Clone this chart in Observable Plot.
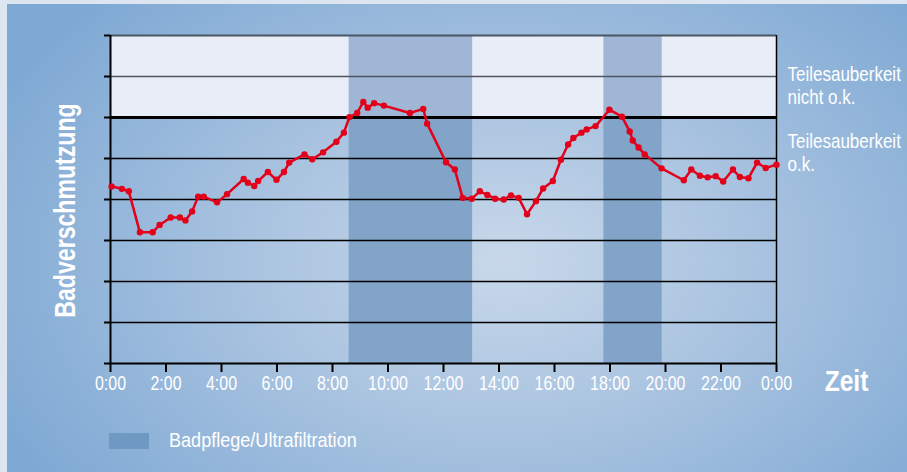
<!DOCTYPE html>
<html>
<head>
<meta charset="utf-8">
<script src="https://cdn.jsdelivr.net/npm/d3@7"></script>
<script src="https://cdn.jsdelivr.net/npm/@observablehq/plot@0.6"></script>
<style>
  html, body { margin: 0; padding: 0; }
  body { width: 907px; height: 472px; background: #dde6f0; position: relative; overflow: hidden;
         font-family: "Liberation Sans", Arial, sans-serif; }
  #bg { position: absolute; left: 7px; top: 4px; width: 900px; height: 468px;
        background: radial-gradient(ellipse 62% 80% at 55% 55%, #c8d8ea 0%, #a9c3e0 45%, #7fa9d4 100%); }
  #chart { position: absolute; left: 0; top: 0; }
  #legend { position: absolute; left: 0; top: 420px; width: 907px; height: 52px; }
  #legend .sw { position: absolute; left: 109px; top: 13px; width: 40px; height: 16px; background: #6f98c2; }
  #legend .lab { position: absolute; left: 169px; top: 8px; font-size: 21px; line-height: 24px; color: #fff; white-space: nowrap;
                 transform: scaleX(0.86); transform-origin: 0 0; }
</style>
</head>
<body>
<div id="bg"></div>
<div id="chart"></div>
<div id="legend"><div class="sw"></div><div class="lab">Badpflege/Ultrafiltration</div></div>
<script>
// time of day in hours
const hours = [0.04,0.41,0.66,1.06,1.52,1.77,2.17,2.50,2.70,2.94,3.16,3.36,3.84,4.20,4.80,4.95,5.18,5.32,5.67,5.98,
  6.25,6.44,6.99,7.27,7.66,8.14,8.41,8.61,8.89,9.11,9.27,9.50,9.85,10.79,11.27,11.41,12.09,12.41,12.69,13.02,
  13.31,13.58,13.86,14.17,14.43,14.71,15.01,15.33,15.59,15.94,16.23,16.49,16.68,16.97,17.16,17.48,17.98,18.43,18.71,18.82,
  19.03,19.25,19.86,20.66,20.93,21.24,21.52,21.81,22.08,22.43,22.68,22.99,23.30,23.61,24.00];
// bath contamination (arbitrary units, threshold at 6)
const values = [4.32,4.26,4.20,3.20,3.20,3.38,3.56,3.56,3.49,3.71,4.07,4.07,3.93,4.13,4.50,4.41,4.33,4.45,4.67,4.48,
  4.67,4.90,5.10,4.98,5.15,5.41,5.63,6.01,6.11,6.38,6.24,6.35,6.29,6.11,6.21,5.85,4.91,4.73,4.04,4.02,
  4.20,4.11,4.02,4.00,4.10,4.04,3.64,3.96,4.27,4.45,4.97,5.34,5.50,5.63,5.71,5.79,6.19,6.02,5.66,5.44,
  5.27,5.10,4.76,4.47,4.73,4.58,4.54,4.57,4.44,4.73,4.55,4.52,4.90,4.77,4.85];
// bath care / ultrafiltration periods
const bandStart = [8.6, 17.78];
const bandEnd = [13.05, 19.88];
const threshold = 6;
const yMax = 8;
const xTicks = [0,2,4,6,8,10,12,14,16,18,20,22,24];
const yTicks = [0,1,2,3,4,5,6,7,8];
const labelAbove = "Teilesauberkeit\nnicht o.k.";
const labelBelow = "Teilesauberkeit\no.k.";

const data = hours.map((h, i) => ({h, v: values[i]}));
const bands = bandStart.map((s, i) => ({s, e: bandEnd[i]}));
const font = "'Liberation Sans', Arial, sans-serif";

const chart = Plot.plot({
  width: 907, height: 420,
  marginLeft: 110, marginRight: 131, marginTop: 35, marginBottom: 57,
  style: {background: "transparent", fontFamily: font, overflow: "visible"},
  x: {domain: [0, 24]},
  y: {domain: [0, yMax]},
  marks: [
    Plot.rect([{}], {x1: 0, x2: 24, y1: threshold, y2: yMax, fill: "#e8edf7"}),
    Plot.rect(bands, {x1: "s", x2: "e", y1: threshold, y2: yMax, fill: "#9fb6d4"}),
    Plot.rect(bands, {x1: "s", x2: "e", y1: 0, y2: threshold, fill: "#81a4c8"}),
    Plot.ruleY(yTicks.filter(d => d > 0 && d < threshold), {stroke: "#000", strokeWidth: 1.5}),
    Plot.ruleY(yTicks.filter(d => d > threshold && d < yMax), {stroke: "#4f5660", strokeWidth: 1.5}),
    Plot.ruleY([yMax], {stroke: "#4a5663", strokeWidth: 2}),
    Plot.ruleY([threshold], {stroke: "#000", strokeWidth: 3}),
    Plot.ruleX([24], {stroke: "#000", strokeWidth: 1.5}),
    Plot.ruleX([0], {stroke: "#000", strokeWidth: 2}),
    Plot.ruleY([0], {stroke: "#000", strokeWidth: 2}),
    Plot.axisX({ticks: xTicks, tickSize: 9, tickPadding: 3, tickFormat: d => `${d % 24}:00`,
      fontSize: 21, fill: "#fff", stroke: "#000", strokeWidth: 2, label: null}),
    Plot.axisY({ticks: yTicks, tickSize: 6, tickFormat: () => "", stroke: "#000", strokeWidth: 2, label: null}),
    Plot.line(data, {x: "h", y: "v", stroke: "#e2001a", strokeWidth: 2.5}),
    Plot.dot(data, {x: "h", y: "v", r: 3.2, fill: "#e2001a"}),
    Plot.text(["Zeit"], {frameAnchor: "bottom-right", dx: 70, dy: 27, lineAnchor: "bottom", textAnchor: "middle",
      fontSize: 30, fontWeight: "bold", fill: "#fff"}),
    Plot.text(["Badverschmutzung"], {frameAnchor: "left", dx: -45, dy: 11, rotate: -90, textAnchor: "middle",
      lineAnchor: "middle", fontSize: 30, fontWeight: "bold", fill: "#fff"}),
    Plot.text([labelAbove], {frameAnchor: "top-right", dx: 11, dy: 68, lineAnchor: "bottom", textAnchor: "start",
      fontSize: 21, lineHeight: 1.095, fill: "#fff"}),
    Plot.text([labelBelow], {frameAnchor: "top-right", dx: 11, dy: 135, lineAnchor: "bottom", textAnchor: "start",
      fontSize: 21, lineHeight: 1.095, fill: "#fff"})
  ]
});
document.getElementById("chart").append(chart);

// emulate the condensed typeface of the original: squeeze each text along its own direction
function condense(elements, f) {
  elements.forEach(t => {
    const tr = t.getAttribute("transform") || "";
    t.setAttribute("transform", `${tr} scale(${f},1)`.trim());
  });
}
condense(chart.querySelectorAll('g[aria-label="x-axis tick label"] text'), 0.76);
const texts = chart.querySelectorAll('g[aria-label="text"] text');
condense([texts[0]], 0.82);
condense([texts[1]], 0.77);
condense([texts[2], texts[3]], 0.81);
</script>
</body>
</html>
